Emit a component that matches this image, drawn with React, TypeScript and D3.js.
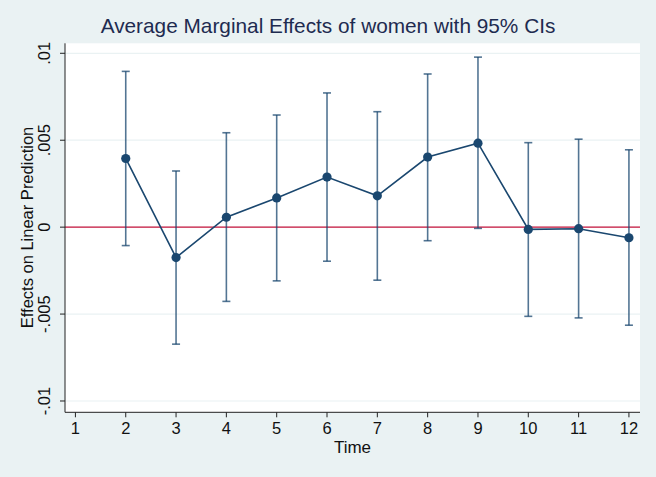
import React from "react";
import * as d3 from "d3";

const times = [2, 3, 4, 5, 6, 7, 8, 9, 10, 11, 12];
const estimates = [0.00395, -0.00175, 0.00057, 0.00168, 0.00288, 0.0018, 0.00403, 0.00483, -0.00013, -0.00009, -0.00061];
const lower = [-0.00106, -0.00673, -0.00427, -0.00309, -0.00196, -0.00305, -0.00078, -0.00007, -0.00513, -0.00522, -0.00564];
const upper = [0.00896, 0.00323, 0.00543, 0.00645, 0.00772, 0.00664, 0.00881, 0.00978, 0.00486, 0.00506, 0.00445];
const xTicks = [1, 2, 3, 4, 5, 6, 7, 8, 9, 10, 11, 12];
const yTicks = [-0.01, -0.005, 0, 0.005, 0.01];
const yTickLabels = ["-.01", "-.005", "0", ".005", ".01"];
const titleText = "Average Marginal Effects of women with 95% CIs";
const xTitle = "Time";
const yTitle = "Effects on Linear Prediction";

const W = 656;
const H = 477;
const left = 65;
const right = 640;
const top = 43.3;
const bottom = 412.3;
const font = "'Liberation Sans', Arial, sans-serif";
const navy = "#1a476f";

export default function App() {
  const x = d3.scaleLinear().domain([0.793, 12.22]).range([left, right]);
  const y = d3.scaleLinear().domain([-0.01065, 0.010575]).range([bottom, top]);
  const pts = times.map((t, i) => ({ t, e: estimates[i], lo: lower[i], hi: upper[i] }));
  const line = d3
    .line<{ t: number; e: number }>()
    .x((d) => x(d.t))
    .y((d) => y(d.e));

  return (
    <svg width={W} height={H} style={{ position: "absolute", left: 0, top: 0 }} fontFamily={font}>
      <rect x={0} y={0} width={W} height={H} fill="#eaf2f3" />
      <rect x={left} y={top} width={right - left} height={bottom - top} fill="#ffffff" />
      {yTicks.map((v) => (
        <line key={"g" + v} x1={left} x2={right} y1={y(v)} y2={y(v)} stroke="#eaf2f3" strokeWidth={1.2} />
      ))}
      <line x1={left} x2={right} y1={y(0)} y2={y(0)} stroke="#c8143c" strokeWidth={1.3} />
      <line x1={left} x2={left} y1={top} y2={bottom} stroke="#222" strokeWidth={1} />
      <line x1={left} x2={right} y1={bottom} y2={bottom} stroke="#222" strokeWidth={1} />
      {yTicks.map((v, i) => (
        <g key={"yt" + v}>
          <line x1={left - 5} x2={left} y1={y(v)} y2={y(v)} stroke="#222" strokeWidth={1} />
          <text
            x={50}
            y={y(v)}
            transform={`rotate(-90, 50, ${y(v)})`}
            textAnchor="middle"
            fontSize={16.5}
            fill="#111"
          >
            {yTickLabels[i]}
          </text>
        </g>
      ))}
      {xTicks.map((v) => (
        <g key={"xt" + v}>
          <line x1={x(v)} x2={x(v)} y1={bottom} y2={bottom + 5} stroke="#222" strokeWidth={1} />
          <text x={x(v)} y={434} textAnchor="middle" fontSize={16.5} fill="#111">
            {v}
          </text>
        </g>
      ))}
      <text x={(left + right) / 2} y={453} textAnchor="middle" fontSize={17} fill="#111">
        {xTitle}
      </text>
      <text
        x={33}
        y={227.5}
        transform="rotate(-90, 33, 227.5)"
        textAnchor="middle"
        fontSize={16.5}
        fill="#111"
      >
        {yTitle}
      </text>
      <text x={W / 2} y={32.5} textAnchor="middle" fontSize={20.8} fill="#1e2b50">
        {titleText}
      </text>
      {pts.map((d) => (
        <g key={"ci" + d.t} stroke={navy} strokeOpacity={0.75} strokeWidth={1.6}>
          <line x1={x(d.t)} x2={x(d.t)} y1={y(d.lo)} y2={y(d.hi)} />
          <line x1={x(d.t) - 4} x2={x(d.t) + 4} y1={y(d.lo)} y2={y(d.lo)} />
          <line x1={x(d.t) - 4} x2={x(d.t) + 4} y1={y(d.hi)} y2={y(d.hi)} />
        </g>
      ))}
      <path d={line(pts) || ""} fill="none" stroke={navy} strokeWidth={1.6} />
      {pts.map((d) => (
        <circle key={"p" + d.t} cx={x(d.t)} cy={y(d.e)} r={4.6} fill={navy} />
      ))}
    </svg>
  );
}
